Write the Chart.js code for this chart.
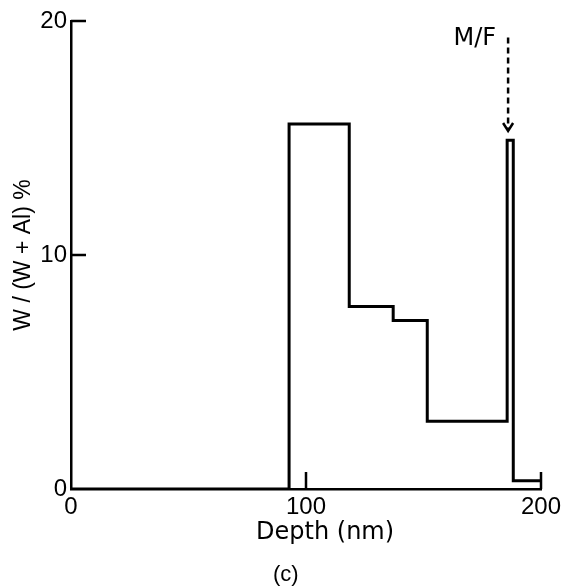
<!DOCTYPE html>
<html>
<head>
<meta charset="utf-8">
<script src="https://cdn.jsdelivr.net/npm/chart.js@4"></script>
<style>
  html, body { margin: 0; padding: 0; background: #fff; }
  #wrap { width: 566px; height: 586px; position: relative; }
</style>
</head>
<body>
<div id="wrap"><canvas id="depthChart"></canvas></div>
<script>
// step edges (nm) and the W/(W+Al) % level that starts at each edge
const depthEdges = [0, 92.8, 118.4, 137.1, 151.6, 185.6, 188.2, 200];
const wPercent = [0, 15.6, 7.8, 7.2, 2.9, 14.9, 0.35, 0.35];

const xTickValues = [0, 100, 200];
const yTickValues = [0, 10, 20];

// metal/film interface marker
const mfLabel = 'M/F';
const mfDepth = 186.0;
const mfFrom = 19.3;
const mfTo = 15.3;

const INK = '#000';

const inwardTicks = {
  id: 'inwardTicks',
  afterDraw(chart) {
    const { ctx, scales: { x, y } } = chart;
    ctx.save();
    ctx.strokeStyle = INK;
    ctx.lineWidth = 2.5;
    ctx.beginPath();
    xTickValues.slice(1).forEach(v => {
      const px = x.getPixelForValue(v);
      ctx.moveTo(px, y.bottom);
      ctx.lineTo(px, y.bottom - 17);
    });
    yTickValues.slice(1).forEach(v => {
      const py = y.getPixelForValue(v);
      ctx.moveTo(x.left, py);
      ctx.lineTo(x.left + 15, py);
    });
    ctx.stroke();

    // dashed arrow to the interface
    const ax = x.getPixelForValue(mfDepth);
    const ay0 = y.getPixelForValue(mfFrom);
    const ay1 = y.getPixelForValue(mfTo);
    ctx.setLineDash([6, 4]);
    ctx.beginPath();
    ctx.moveTo(ax, ay0);
    ctx.lineTo(ax, ay1 - 2);
    ctx.stroke();
    ctx.setLineDash([]);
    ctx.beginPath();
    ctx.moveTo(ax - 5, ay1 - 8);
    ctx.lineTo(ax, ay1);
    ctx.lineTo(ax + 5, ay1 - 8);
    ctx.stroke();

    ctx.fillStyle = INK;
    ctx.font = '24px "DejaVu Sans"';
    ctx.textAlign = 'right';
    ctx.textBaseline = 'middle';
    ctx.fillText(mfLabel, ax - 12, ay0 + 1);
    ctx.restore();
  }
};

const points = depthEdges.map((d, i) => ({ x: d, y: wPercent[i] }));

const config = {
  type: 'line',
  data: {
    datasets: [
      {
        data: points,
        stepped: true,
        borderColor: INK,
        borderWidth: 3,
        pointRadius: 0,
        fill: false
      }
    ]
  },
  options: {
    responsive: true,
    maintainAspectRatio: false,
    animation: false,
    layout: {
      padding: { top: 21, right: 25, left: 0, bottom: 0 }
    },
    plugins: {
      legend: { display: false },
      tooltip: { enabled: false },
      title: {
        display: true,
        position: 'bottom',
        text: '     (c)',
        color: INK,
        font: { family: 'Liberation Sans', size: 22, weight: 'normal', lineHeight: 1 },
        padding: 0
      }
    },
    scales: {
      x: {
        type: 'linear',
        min: 0,
        max: 200,
        afterBuildTicks: s => { s.ticks = xTickValues.map(v => ({ value: v })); },
        afterFit: s => { s.height = 75; },
        grid: { display: false, drawTicks: false },
        border: { display: true, color: INK, width: 2.5 },
        ticks: {
          color: INK,
          padding: 4,
          maxRotation: 0,
          autoSkip: false,
          font: { family: 'Liberation Sans', size: 24 }
        },
        title: {
          display: true,
          text: '     Depth (nm)',
          color: INK,
          font: { family: 'DejaVu Sans', size: 24 },
          padding: { top: 0, bottom: 17 }
        }
      },
      y: {
        type: 'linear',
        min: 0,
        max: 20,
        afterBuildTicks: s => { s.ticks = yTickValues.map(v => ({ value: v })); },
        afterFit: s => { s.width = 71; },
        grid: { display: false, drawTicks: false },
        border: { display: true, color: INK, width: 2.5 },
        ticks: {
          color: INK,
          padding: 4,
          font: { family: 'Liberation Sans', size: 24 }
        },
        title: {
          display: true,
          text: 'W / (W + Al) %',
          color: INK,
          font: { family: 'Liberation Sans', size: 23 },
          padding: { top: 10, bottom: 0 }
        }
      }
    }
  },
  plugins: [inwardTicks]
};

const chart = new Chart(document.getElementById('depthChart'), config);
</script>
</body>
</html>
